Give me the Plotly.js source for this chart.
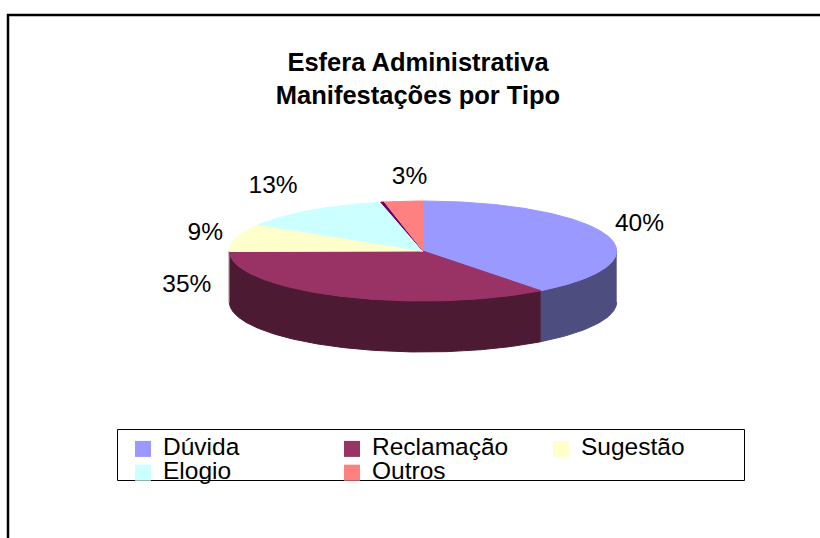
<!DOCTYPE html>
<html>
<head>
<meta charset="utf-8">
<script src="https://cdn.plot.ly/plotly-3.0.1.min.js"></script>
<style>
html,body{margin:0;padding:0;background:#ffffff;}
#chart{width:820px;height:538px;}
</style>
</head>
<body>
<div id="chart"></div>
<script>
// ---- data ----
const categories = ['Dúvida', 'Reclamação', 'Sugestão', 'Elogio', '', 'Outros'];
const values = [39.6, 35.1, 9.2, 12.6, 0.3, 3.2];
const colors = ['#9999FF', '#993366', '#FFFFCC', '#CCFFFF', '#660066', '#FF8080'];
const inLegend = [true, true, true, true, false, true];
const showLabel = [true, true, true, true, false, true];
const titleLines = ['Esfera Administrativa', 'Manifestações por Tipo'];

// ---- style / geometry ----
const W = 820, H = 538;
const PIE = {cx: 423, cy: 251, rx: 193.7, ry: 50, depth: 51};
const labelNudge = [[33, -10], [-152, -10], [-31, -4], [-38, -23], [0, 0], [6, -23]];
const FONT = 'Liberation Sans, Arial, sans-serif';
const TXT = 24.5;

function shade(hex, f) {
  const n = parseInt(hex.slice(1), 16);
  const r = Math.round(((n >> 16) & 255) * f), g = Math.round(((n >> 8) & 255) * f), b = Math.round((n & 255) * f);
  return 'rgb(' + r + ',' + g + ',' + b + ')';
}
function pt(theta, dy) {
  const r = theta * Math.PI / 180;
  return [PIE.cx + PIE.rx * Math.sin(r), PIE.cy - PIE.ry * Math.cos(r) + (dy || 0)];
}
function arc(a, b, dy) {
  const n = Math.max(2, Math.ceil(Math.abs(b - a) / 0.5));
  const xs = [], ys = [];
  for (let i = 0; i <= n; i++) {
    const p = pt(a + (b - a) * i / n, dy);
    xs.push(p[0]); ys.push(p[1]);
  }
  return [xs, ys];
}

const total = values.reduce((s, v) => s + v, 0);
const starts = [], ends = [];
let acc = 0;
values.forEach(v => { starts.push(acc / total * 360); acc += v; ends.push(acc / total * 360); });

const sideTraces = [], topTraces = [], legendTraces = [];
values.forEach((v, i) => {
  const a = Math.max(starts[i], 90), b = Math.min(ends[i], 270);
  if (b > a) {
    const t = arc(a, b, 0), bt = arc(b, a, PIE.depth);
    const c = shade(colors[i], 0.5);
    sideTraces.push({type: 'scatter', mode: 'lines', x: t[0].concat(bt[0]), y: t[1].concat(bt[1]),
      fill: 'toself', fillcolor: c, line: {color: c, width: 1}, hoverinfo: 'skip', showlegend: false});
  }
  const ar = arc(starts[i], ends[i], 0);
  topTraces.push({type: 'scatter', mode: 'lines',
    x: [PIE.cx].concat(ar[0], [PIE.cx]), y: [PIE.cy].concat(ar[1], [PIE.cy]),
    fill: 'toself', fillcolor: colors[i], line: {color: colors[i], width: 1},
    hoverinfo: 'skip', showlegend: false});
  if (inLegend[i]) {
    legendTraces.push({type: 'scatter', mode: 'markers', x: [null], y: [null],
      name: '<span style="font-size:' + TXT + 'px">' + categories[i] + '</span>',
      marker: {symbol: 'square', size: 17, color: colors[i], line: {width: 0}},
      hoverinfo: 'skip', showlegend: true});
  }
});

const lx = [], ly = [], lt = [];
values.forEach((v, i) => {
  if (!showLabel[i]) return;
  const p = pt((starts[i] + ends[i]) / 2, 0);
  lx.push(p[0] + labelNudge[i][0]);
  ly.push(p[1] + labelNudge[i][1]);
  lt.push(Math.round(v / total * 100) + '%');
});
const labelTrace = {type: 'scatter', mode: 'text', x: lx, y: ly, text: lt,
  textposition: 'middle center', textfont: {family: FONT, size: TXT, color: '#000'},
  cliponaxis: false, hoverinfo: 'skip', showlegend: false};

const layout = {
  width: W, height: H,
  margin: {l: 0, r: 0, t: 0, b: 0, pad: 0, autoexpand: false},
  paper_bgcolor: '#ffffff', plot_bgcolor: 'rgba(0,0,0,0)',
  hovermode: false,
  xaxis: {range: [0, W], visible: false, fixedrange: true},
  yaxis: {range: [H, 0], visible: false, fixedrange: true},
  title: {text: titleLines.join('<br>'),
    font: {family: FONT, size: 25.5, color: '#000', weight: 'bold'},
    x: 418 / W, xanchor: 'center', xref: 'paper', y: 1 - 70.5 / H, yanchor: 'top', yref: 'container'},
  showlegend: true,
  legend: {orientation: 'h', x: 123 / W, xanchor: 'left', y: 1 - 432 / H, yanchor: 'top',
    entrywidth: 164, entrywidthmode: 'pixels',
    font: {family: FONT, size: 16, color: '#000'},
    bgcolor: 'rgba(0,0,0,0)', borderwidth: 0, itemclick: false, itemdoubleclick: false},
  shapes: [
    {type: 'rect', xref: 'x', yref: 'y', x0: 117.5, x1: 744.5, y0: 429.5, y1: 480.5,
      line: {color: '#000', width: 1}, fillcolor: '#ffffff', layer: 'below'},
    {type: 'line', xref: 'x', yref: 'y', x0: 7, x1: W, y0: 15, y1: 15, line: {color: '#000', width: 2.5}},
    {type: 'line', xref: 'x', yref: 'y', x0: 8, x1: 8, y0: 14, y1: H, line: {color: '#000', width: 2.5}}
  ]
};

Plotly.newPlot('chart', sideTraces.concat(topTraces, [labelTrace], legendTraces), layout,
  {staticPlot: true, displayModeBar: false});
</script>
</body>
</html>
